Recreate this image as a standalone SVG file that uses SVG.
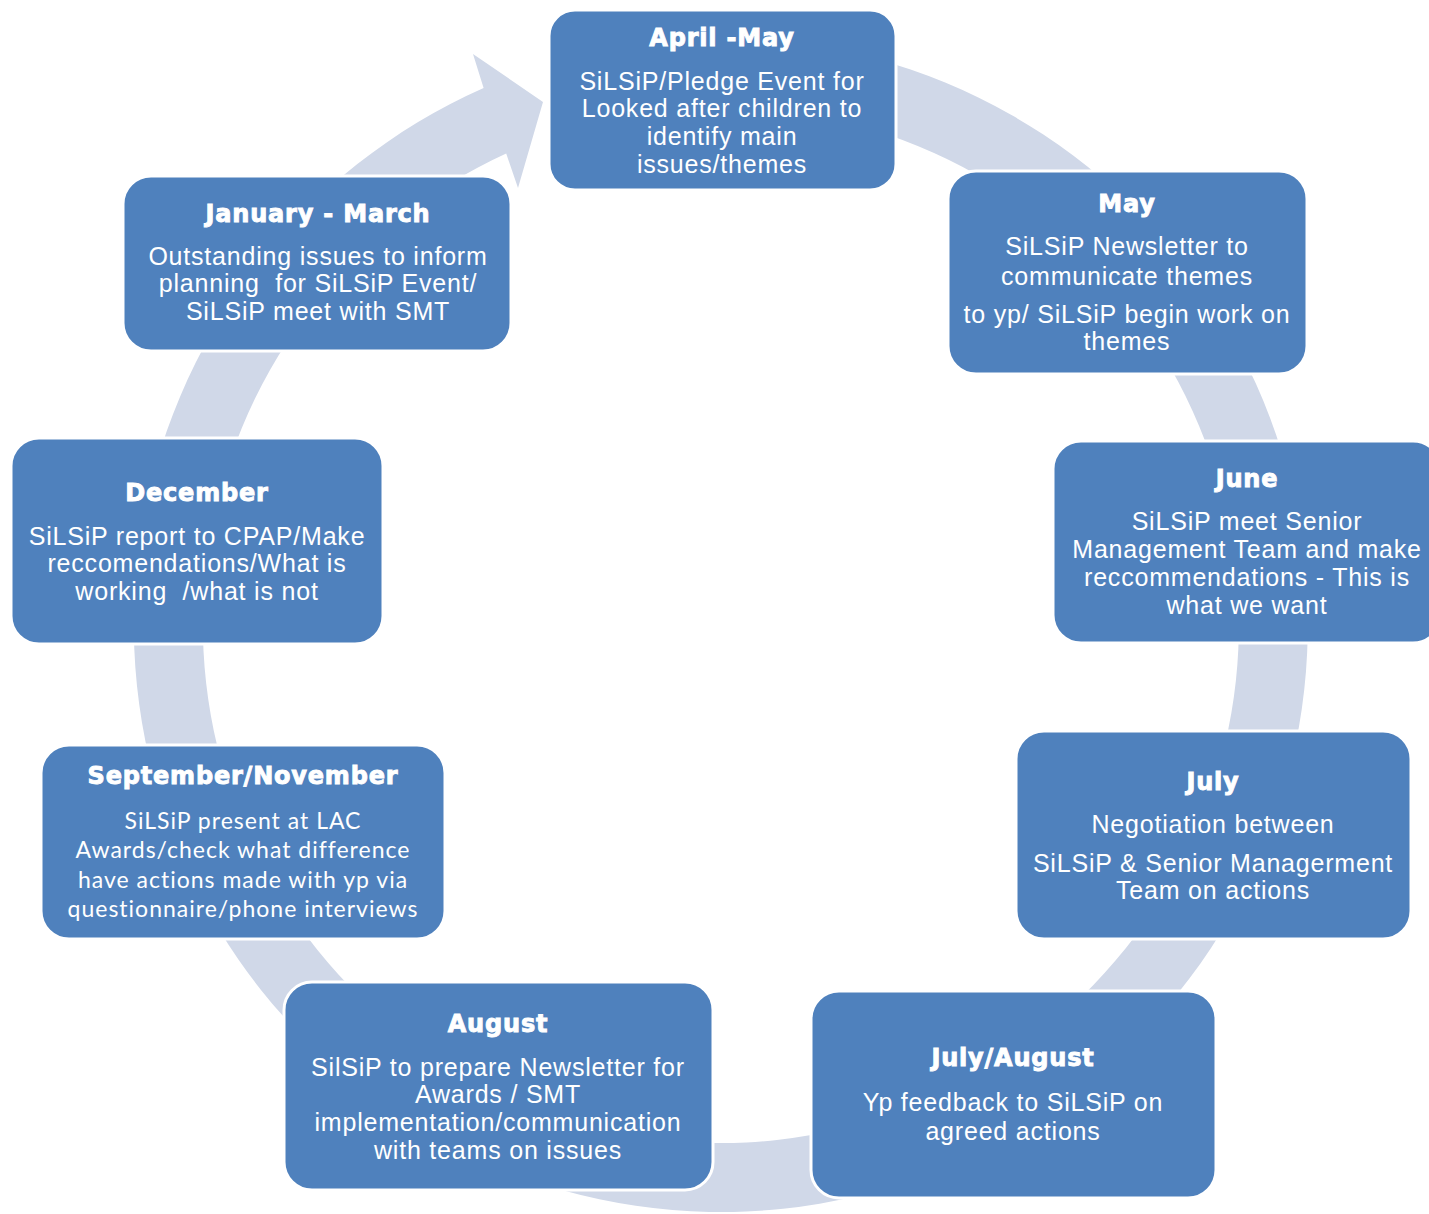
<svg xmlns="http://www.w3.org/2000/svg" width="1429" height="1214" viewBox="0 0 1429 1214">
<style>
.box{fill:#4F81BD;stroke:#FFFFFF;stroke-width:3}
.t{font-family:"DejaVu Sans",sans-serif;font-weight:bold;font-size:24px;fill:#FFFFFF;stroke:#FFFFFF;stroke-width:0.9px;text-anchor:middle;letter-spacing:0.8px}
.b{font-family:"Liberation Sans",Arial,sans-serif;font-size:25px;fill:#FFFFFF;text-anchor:middle;letter-spacing:0.8px;white-space:pre}
.c{font-family:Lato,"Liberation Sans",sans-serif;font-size:23px;fill:#FFFFFF;text-anchor:middle;letter-spacing:1px}
.ring{fill:#D0D8E8}
</style>
<rect width="1429" height="1214" fill="#FFFFFF"/>
<g id="connectors">
<path class="ring" d="M619.07,46.92 A587,587 0 1 1 483.6,88.1 L473,54 L543,102 L518,188 L506.2,153.6 A518,518 0 1 0 631.05,114.87 Z"/>
</g>
<g id="node-april-may">
<rect class="box" x="549" y="10" width="347" height="180" rx="26"/>
<text class="t" x="722" y="46">April -May</text>
<text class="b" x="722" y="90">SiLSiP/Pledge Event for</text>
<text class="b" x="722" y="117">Looked after children to</text>
<text class="b" x="722" y="145">identify main</text>
<text class="b" x="722" y="173">issues/themes</text>
</g>
<g id="node-may">
<rect class="box" x="948" y="171" width="359" height="203" rx="28"/>
<text class="t" x="1127" y="212">May</text>
<text class="b" x="1127" y="255">SiLSiP Newsletter to</text>
<text class="b" x="1127" y="285">communicate themes</text>
<text class="b" x="1127" y="323">to yp/ SiLSiP begin work on</text>
<text class="b" x="1127" y="350">themes</text>
</g>
<g id="node-june">
<rect class="box" x="1053" y="441" width="388" height="202" rx="28"/>
<text class="t" x="1247" y="487">June</text>
<text class="b" x="1247" y="530">SiLSiP meet Senior</text>
<text class="b" x="1247" y="558">Management Team and make</text>
<text class="b" x="1247" y="586">reccommendations - This is</text>
<text class="b" x="1247" y="614">what we want</text>
</g>
<g id="node-july">
<rect class="box" x="1016" y="731" width="395" height="208" rx="28"/>
<text class="t" x="1213" y="790">July</text>
<text class="b" x="1213" y="833">Negotiation between</text>
<text class="b" x="1213" y="872">SiLSiP &amp; Senior Managerment</text>
<text class="b" x="1213" y="899">Team on actions</text>
</g>
<g id="node-july-august">
<rect class="box" x="811" y="991" width="405" height="207" rx="28"/>
<text class="t" x="1013" y="1066">July/August</text>
<text class="b" x="1013" y="1111">Yp feedback to SiLSiP on</text>
<text class="b" x="1013" y="1140">agreed actions</text>
</g>
<g id="node-august">
<rect class="box" x="284" y="982" width="429" height="208" rx="28"/>
<text class="t" x="498" y="1032">August</text>
<text class="b" x="498" y="1076">SilSiP to prepare Newsletter for</text>
<text class="b" x="498" y="1103">Awards / SMT</text>
<text class="b" x="498" y="1131">implementation/communication</text>
<text class="b" x="498" y="1159">with teams on issues</text>
</g>
<g id="node-september-november">
<rect class="box" x="41" y="745" width="404" height="194" rx="28"/>
<text class="t" x="243" y="784">September/November</text>
<text class="c" x="243" y="829">SiLSiP present at LAC</text>
<text class="c" x="243" y="858">Awards/check what difference</text>
<text class="c" x="243" y="888">have actions made with yp via</text>
<text class="c" x="243" y="917">questionnaire/phone interviews</text>
</g>
<g id="node-december">
<rect class="box" x="11" y="438" width="372" height="206" rx="28"/>
<text class="t" x="197" y="501">December</text>
<text class="b" x="197" y="545">SiLSiP report to CPAP/Make</text>
<text class="b" x="197" y="572">reccomendations/What is</text>
<text class="b" x="197" y="600">working  /what is not</text>
</g>
<g id="node-january-march">
<rect class="box" x="123" y="176" width="388" height="175" rx="28"/>
<text class="t" x="318" y="222">January - March</text>
<text class="b" x="318" y="265">Outstanding issues to inform</text>
<text class="b" x="318" y="292">planning  for SiLSiP Event/</text>
<text class="b" x="318" y="320">SiLSiP meet with SMT</text>
</g>
</svg>
